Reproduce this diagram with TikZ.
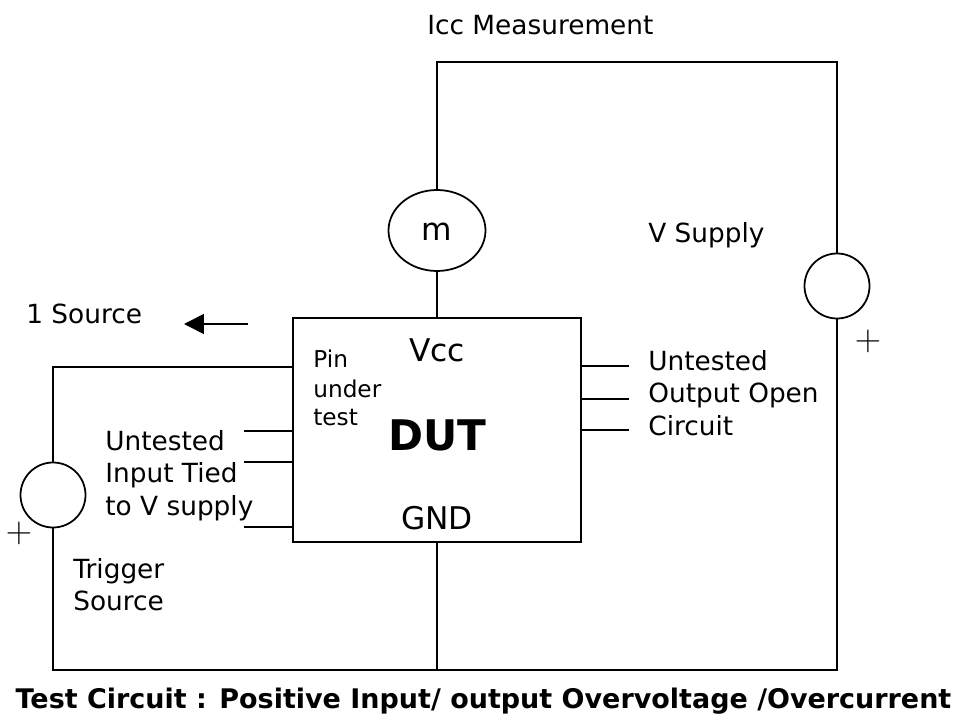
\documentclass[tikz,border=0pt]{standalone}
\usepackage{fontspec}
\setmainfont{DejaVu Sans}
\usetikzlibrary{shapes.geometric,arrows.meta}
\newlength{\pxunit}
\setlength{\pxunit}{0.02cm}
\tikzstyle{label}=[inner sep=0pt, anchor=base west, font=\fontsize{15}{17}\selectfont]
\tikzstyle{big label}=[inner sep=0pt, anchor=base, font=\fontsize{17.8}{20}\selectfont]
\tikzstyle{small label}=[inner sep=0pt, anchor=base west, font=\fontsize{13.2}{15}\selectfont]
\tikzstyle{plus}=[inner sep=0pt, font=\fontsize{20}{22}\selectfont]
\tikzstyle{source}=[fill=white, draw=black, line width=1pt, shape=circle, inner sep=0pt, minimum size=65\pxunit]
\tikzstyle{wire}=[-, draw=black, line width=1pt]
\pgfdeclarelayer{nodelayer}
\pgfdeclarelayer{edgelayer}
\pgfsetlayers{edgelayer,nodelayer}
\begin{document}
\begin{tikzpicture}[x=0.02cm, y=-0.02cm]
    \useasboundingbox (0, 0) rectangle (956, 715);
    \begin{pgfonlayer}{nodelayer}
        \node [draw=black, line width=1pt, fill=white, minimum width=288\pxunit, minimum height=224\pxunit, inner sep=0pt] (dut) at (437, 430) {};
        \node [draw=black, line width=1pt, fill=white, shape=ellipse, inner sep=0pt, minimum width=97\pxunit, minimum height=81\pxunit] (meter) at (437, 230.5) {};
        \node [style=source] (vsupply) at (837, 286) {};
        \node [style=source] (trigger) at (53, 495) {};
        \node [style=label] (icc) at (427, 35) {Icc Measurement};
        \node [style=big label] (m) at (437, 241) {m};
        \node [style=label] (vlabel) at (648, 243) {V Supply};
        \node [style=label] (isource) at (26, 324) {1 Source};
        \node [style=big label] (vcc) at (437, 362) {Vcc};
        \node [style=small label] (pin) at (313, 368) {Pin};
        \node [style=small label] (under) at (313, 398) {under};
        \node [style=small label] (test) at (313, 426) {test};
        \node [inner sep=0pt, font=\bfseries\fontsize{24}{28}\selectfont] (dutlabel) at (437, 435) {DUT};
        \node [style=big label] (gnd) at (437, 530) {GND};
        \node [style=label] (in1) at (105, 451) {Untested};
        \node [style=label] (in2) at (105, 483) {Input Tied};
        \node [style=label] (in3) at (105, 516) {to V supply};
        \node [style=label] (out1) at (648, 371) {Untested};
        \node [style=label] (out2) at (648, 403) {Output Open};
        \node [style=label] (out3) at (648, 436) {Circuit};
        \node [style=label] (trig1) at (73, 578) {Trigger};
        \node [style=label] (trig2) at (73, 610) {Source};
        \node [style=plus] (plus1) at (868, 341) {$+$};
        \node [style=plus] (plus2) at (19, 533) {$+$};
        \node [inner sep=0pt, anchor=base, font=\bfseries\fontsize{15.35}{17}\selectfont] (caption) at (483.5, 708) {Test Circuit : Positive Input/ output Overvoltage /Overcurrent};
    \end{pgfonlayer}
    \begin{pgfonlayer}{edgelayer}
        \coordinate (tl) at (437, 62);
        \coordinate (tr) at (837, 62);
        \coordinate (br) at (837, 670);
        \coordinate (bm) at (437, 670);
        \coordinate (bl) at (53, 670);
        \coordinate (pinl) at (53, 367);
        \coordinate (pinr) at (293, 367);
        \draw [style=wire, line join=miter] (meter) to (tl) to (tr) to (vsupply);
        \draw [style=wire] (vsupply) to (br) to (bl) to (trigger);
        \draw [style=wire] (trigger) to (pinl) to (pinr);
        \draw [style=wire] (meter) to (dut);
        \draw [style=wire] (dut.south) to (bm);
        \coordinate (a1) at (244, 431); \coordinate (a2) at (293, 431);
        \coordinate (b1) at (244, 462); \coordinate (b2) at (293, 462);
        \coordinate (c1) at (244, 527); \coordinate (c2) at (293, 527);
        \draw [style=wire] (a1) to (a2);
        \draw [style=wire] (b1) to (b2);
        \draw [style=wire] (c1) to (c2);
        \coordinate (d1) at (581, 366); \coordinate (d2) at (629, 366);
        \coordinate (e1) at (581, 399); \coordinate (e2) at (629, 399);
        \coordinate (f1) at (581, 430); \coordinate (f2) at (629, 430);
        \draw [style=wire] (d1) to (d2);
        \draw [style=wire] (e1) to (e2);
        \draw [style=wire] (f1) to (f2);
        \coordinate (arrowr) at (248, 324);
        \coordinate (arrowl) at (184, 324);
        \draw [style=wire, -{Triangle[length=0.4cm,width=0.4cm]}] (arrowr) to (arrowl);
    \end{pgfonlayer}
\end{tikzpicture}
\end{document}
